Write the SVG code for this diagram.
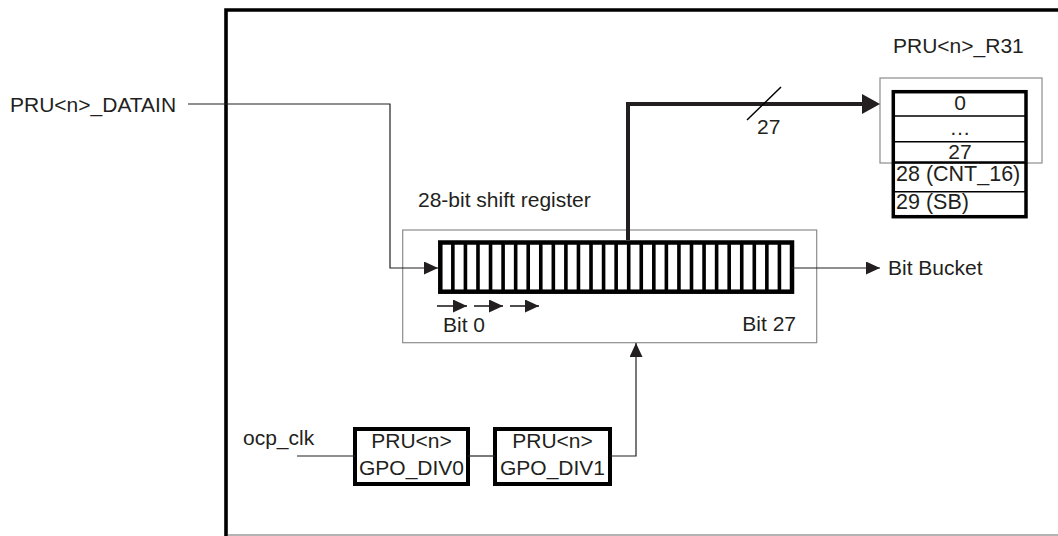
<svg xmlns="http://www.w3.org/2000/svg" width="1058" height="536" viewBox="0 0 1058 536">
<style>
text{font-family:"Liberation Sans",Arial,sans-serif;font-size:21px;fill:#231f20}
.mid{text-anchor:middle}
.end{text-anchor:end}
.thin{fill:none;stroke:#231f20;stroke-width:1.2}
.grey{fill:none;stroke:#8c8c8c;stroke-width:1.2}
.thick{fill:#fff;stroke:#000;stroke-width:4}
</style>
<defs>
<marker id="ah" markerUnits="userSpaceOnUse" markerWidth="14" markerHeight="13" viewBox="0 0 14 13" refX="14" refY="6.5" orient="auto"><path d="M0,0 L14,6.5 L0,13 z" fill="#231f20"/></marker>
<marker id="ahBig" markerUnits="userSpaceOnUse" markerWidth="18" markerHeight="20" viewBox="0 0 18 20" refX="0" refY="10" orient="auto"><path d="M0,0 L18,10 L0,20 z" fill="#231f20"/></marker>
</defs>
<rect width="1058" height="536" fill="#fff"/>
<g id="frame">
<path d="M226,536 V10 H1058" fill="none" stroke="#000" stroke-width="3.6"/>
<line x1="228" y1="535" x2="1058" y2="535" stroke="#9a9a9a" stroke-width="1.5"/>
</g>
<g id="shift-register">
<rect x="402.7" y="230" width="414" height="112.7" class="grey"/>
<rect x="440.3" y="242.5" width="351.7" height="49.2" fill="#fff" stroke="#000" stroke-width="4.5"/>
<path d="M452.86,242V292M465.42,242V292M477.98,242V292M490.54,242V292M503.1,242V292M515.66,242V292M528.22,242V292M540.78,242V292M553.34,242V292M565.9,242V292M578.46,242V292M591.02,242V292M603.58,242V292M616.14,242V292M628.7,242V292M641.26,242V292M653.82,242V292M666.38,242V292M678.94,242V292M691.5,242V292M704.06,242V292M716.62,242V292M729.18,242V292M741.74,242V292M754.3,242V292M766.86,242V292M779.42,242V292" stroke="#000" stroke-width="3.6"/>
<text x="418" y="207">28-bit shift register</text>
<g stroke="#231f20" stroke-width="1.6">
<line x1="437" y1="306" x2="467" y2="306" marker-end="url(#ah)"/>
<line x1="474" y1="306" x2="503" y2="306" marker-end="url(#ah)"/>
<line x1="510" y1="306" x2="539" y2="306" marker-end="url(#ah)"/>
</g>
<text x="443" y="332">Bit 0</text>
<text x="796" y="331" class="end">Bit 27</text>
</g>
<g id="r31">
<text x="893" y="53">PRU&lt;n&gt;_R31</text>
<rect x="880" y="78" width="162" height="85" class="grey"/>
<rect x="893.3" y="91.7" width="132.7" height="125" fill="none" stroke="#000" stroke-width="3.5"/>
<path d="M893,116H1026M893,141.7H1026M893,191.7H1026" stroke="#000" stroke-width="1.5"/>
<line x1="893" y1="162.5" x2="1026" y2="162.5" stroke="#000" stroke-width="2.5"/>
<text x="960" y="110" class="mid">0</text>
<text x="960" y="135" class="mid">…</text>
<text x="960" y="159" class="mid">27</text>
<text x="896" y="181" style="font-size:21.5px">28 (CNT_16)</text>
<text x="896" y="209" style="font-size:21.5px">29 (SB)</text>
</g>
<g id="gpo-div0">
<rect x="355" y="429" width="113" height="55" class="thick"/>
<text x="411.5" y="448" class="mid">PRU&lt;n&gt;</text>
<text x="411.5" y="475" class="mid">GPO_DIV0</text>
</g>
<g id="gpo-div1">
<rect x="495" y="429" width="115" height="55" class="thick"/>
<text x="552.5" y="448" class="mid">PRU&lt;n&gt;</text>
<text x="552.5" y="475" class="mid">GPO_DIV1</text>
</g>
<g id="labels">
<text x="10" y="112">PRU&lt;n&gt;_DATAIN</text>
<text x="243" y="445">ocp_clk</text>
<text x="888" y="275">Bit Bucket</text>
<text x="757" y="134">27</text>
</g>
<g id="connectors">
<path d="M188,104 H390 V268 H438" class="thin" marker-end="url(#ah)"/>
<path d="M792,268 H880" class="thin" marker-end="url(#ah)"/>
<path d="M628,240 V104 H862" fill="none" stroke="#231f20" stroke-width="4" marker-end="url(#ahBig)"/>
<line x1="747" y1="120" x2="781" y2="87" stroke="#000" stroke-width="1.5"/>
<path d="M297,456 H355" class="thin"/>
<path d="M468,456 H495" class="thin"/>
<path d="M610,456 H636 V343" class="thin" marker-end="url(#ah)"/>
</g>
</svg>
